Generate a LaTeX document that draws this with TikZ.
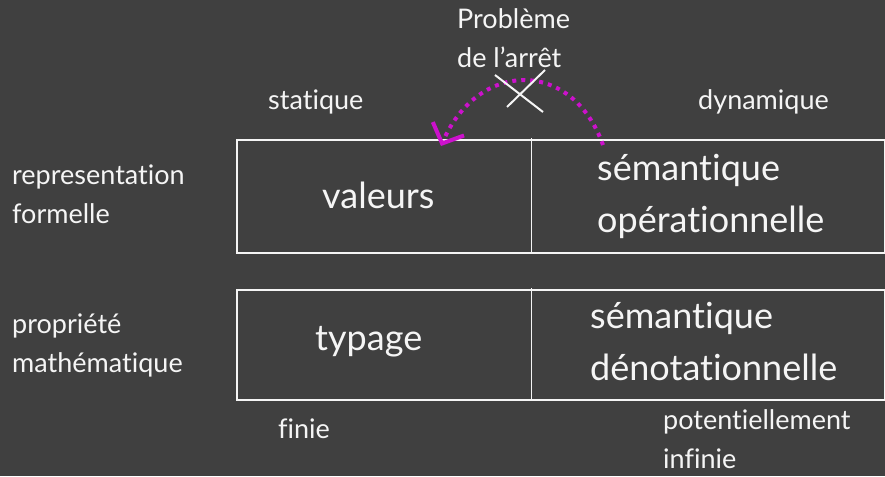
\documentclass[tikz,border=0pt]{standalone}
\usepackage{fontspec}
\setmainfont{Lato}[Ligatures=NoCommon]
\usepackage{tikz}
\usetikzlibrary{arrows.meta}
\definecolor{board}{RGB}{64,64,64}
\definecolor{chalk}{RGB}{245,245,245}
\definecolor{pen}{RGB}{204,17,204}
\newcommand{\labelsize}{\fontsize{27}{39}\selectfont}
\newcommand{\cellsize}{\fontsize{36}{52}\selectfont}
\begin{document}
\begin{tikzpicture}[x=1pt,y=-1pt,
  label/.style={text=chalk,inner sep=0pt,anchor=base west,align=left,font=\labelsize},
  cell/.style={text=chalk,inner sep=0pt,anchor=base west,align=left,font=\cellsize}]
\fill[board] (0,0) rectangle (885,476);
\useasboundingbox (0,0) rectangle (885,476);

% les deux tableaux
\draw[chalk,line width=1.5pt] (237,140) rectangle (885,253);
\draw[chalk,line width=1pt] (531,138) -- (531,252);
\draw[chalk,line width=1.5pt] (237,290) rectangle (885,400);
\draw[chalk,line width=1pt] (531,288) -- (531,399);

% (ancre sur la derniere ligne)
\node[label] (probleme) at (457,68) {Problème\\de l'arrêt};
\node[label] (statique) at (268,110) {statique};
\node[label] (dynamique) at (698,110) {dynamique};
\node[label] (repr) at (12,223) {representation\\formelle};
\node[label] (prop) at (12,372) {propriété\\mathématique};

\node[cell] (valeurs) at (322,208) {valeurs};
\node[cell] (opsem) at (597,232) {sémantique\\opérationnelle};
\node[cell] (typage) at (315,350) {typage};
\node[cell] (densem) at (590,380) {sémantique\\dénotationnelle};

\node[label] (finie) at (278,438) {finie};
\node[label] (infinie) at (663,468) {potentiellement\\infinie};

% fleche barree
\coordinate (from) at (603,145);
\coordinate (to) at (441,146);
\draw[pen,line width=4pt,dash pattern=on 4pt off 5pt,
  -{Straight Barb[length=16pt,width=34pt,line width=4pt]}]
  (from) .. controls (572,58) and (478,60) .. (to);
\draw[chalk,line width=2pt] (495,75) -- (543,112);
\draw[chalk,line width=2pt] (507,107) -- (545,70);
\end{tikzpicture}
\end{document}
